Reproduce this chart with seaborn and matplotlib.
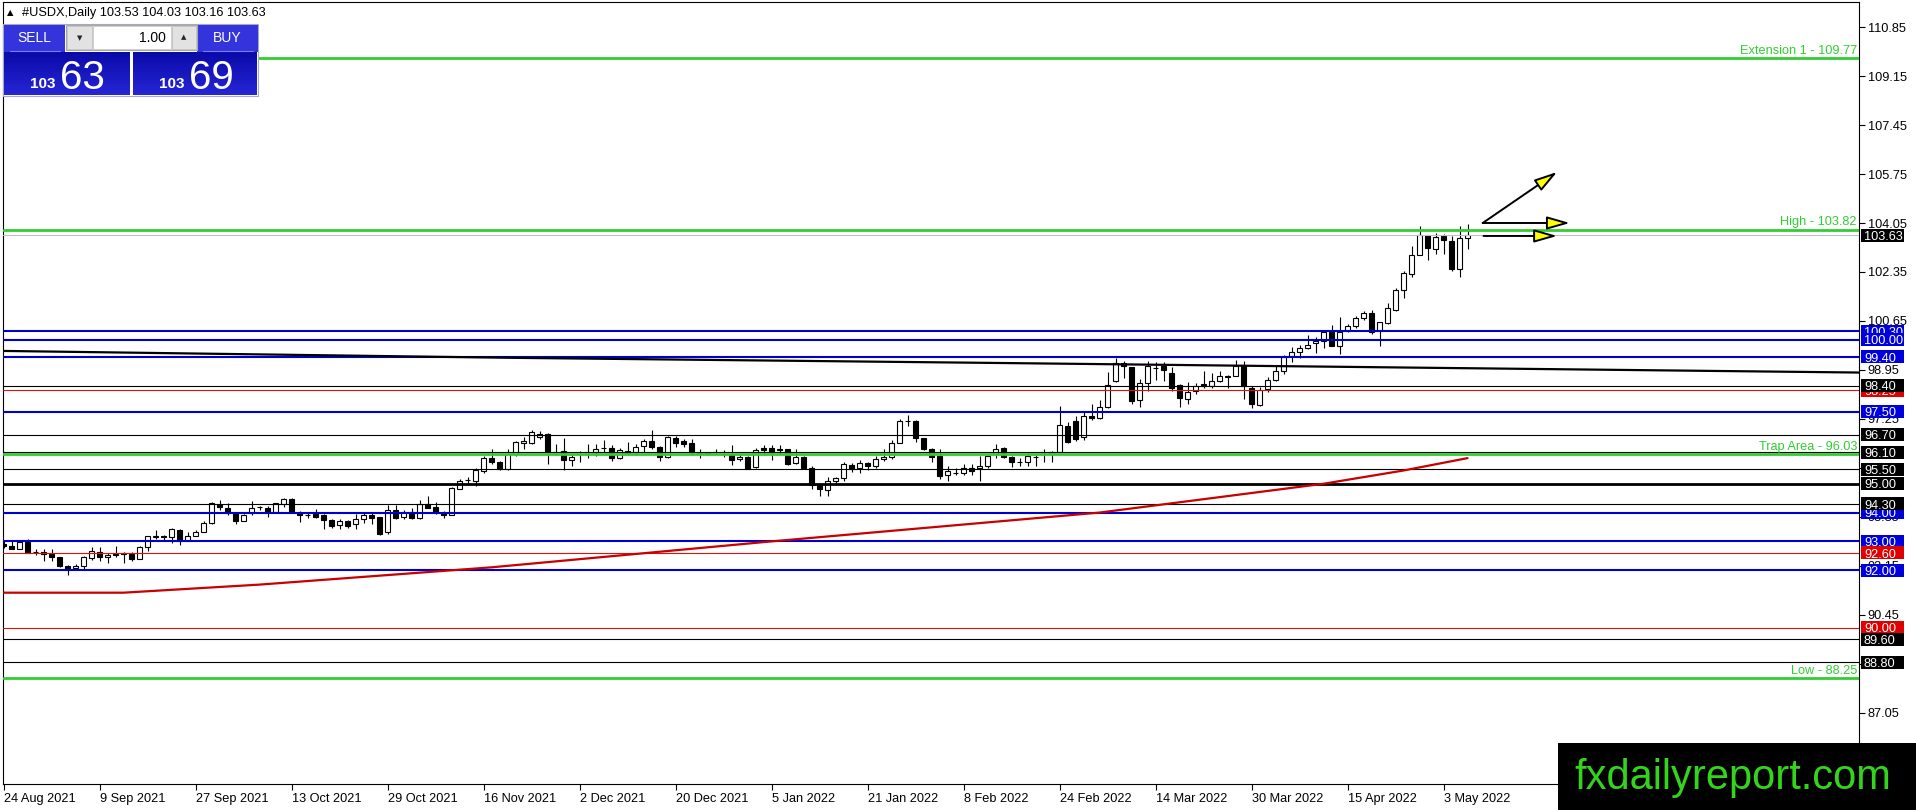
import numpy as np
import pandas as pd
import matplotlib
matplotlib.use('Agg')
import matplotlib.pyplot as plt
import matplotlib.transforms as mtransforms
from matplotlib import font_manager
from matplotlib.patches import Rectangle
from matplotlib.colors import LinearSegmentedColormap
import seaborn as sns

# daily candles, 24 Aug 2021 .. 6 May 2022
opens = [92.92, 92.85, 92.75, 92.97, 92.64, 92.63, 92.56, 92.45, 92.14, 92.06,
         92.13, 92.43, 92.63, 92.45, 92.54, 92.55, 92.57, 92.40, 92.79, 93.16,
         93.17, 93.14, 93.40, 93.02, 93.20, 93.34, 93.65, 94.26, 94.17, 93.98,
         93.72, 93.98, 94.19, 94.17, 94.03, 94.31, 94.48, 94.00, 93.93, 93.94,
         93.92, 93.75, 93.56, 93.70, 93.60, 93.77, 93.92, 93.83, 93.31, 94.09,
         93.86, 94.02, 93.80, 94.29, 94.20, 93.98, 93.91, 94.83, 95.12, 95.10,
         95.45, 95.90, 95.77, 95.50, 96.05, 96.42, 96.42, 96.61, 96.74, 96.10,
         96.14, 95.84, 96.04, 96.10, 96.09, 96.24, 96.25, 95.90, 96.14, 96.09,
         96.30, 96.49, 96.28, 95.94, 96.60, 96.47, 96.43, 96.08, 96.06, 96.10,
         96.11, 95.99, 95.85, 95.94, 95.57, 96.24, 96.25, 96.19, 96.20, 95.71,
         95.92, 95.54, 94.97, 94.80, 95.08, 95.20, 95.65, 95.56, 95.73, 95.60,
         95.86, 95.94, 96.42, 97.18, 97.19, 96.59, 96.22, 95.96, 95.30, 95.38,
         95.37, 95.56, 95.54, 95.63, 96.05, 96.25, 95.94, 95.74, 95.74, 95.92,
         96.02, 96.03, 96.11, 97.01, 97.18, 96.61, 97.34, 97.28, 97.65, 98.55,
         99.18, 99.04, 97.92, 98.48, 99.02, 99.07, 98.84, 98.44, 97.94, 98.23,
         98.45, 98.40, 98.58, 98.69, 98.75, 99.10, 98.34, 97.73, 98.28, 98.60,
         98.93, 99.45, 99.59, 99.70, 99.87, 99.94, 100.28, 99.79, 100.31, 100.48,
         100.75, 100.94, 100.31, 100.58, 101.04, 101.73, 102.29, 102.93, 103.65, 103.15,
         103.61, 103.44, 102.46, 103.53]
highs = [93.00, 93.05, 93.00, 93.10, 92.72, 92.75, 92.74, 92.47, 92.17, 92.22,
         92.48, 92.80, 92.80, 92.60, 92.83, 92.63, 92.63, 92.84, 93.20, 93.38,
         93.23, 93.46, 93.43, 93.34, 93.40, 93.72, 94.35, 94.45, 94.32, 94.00,
         93.95, 94.40, 94.23, 94.23, 94.34, 94.52, 94.50, 94.06, 94.00, 94.14,
         93.94, 93.79, 93.77, 93.75, 93.94, 93.97, 93.98, 93.85, 94.27, 94.27,
         94.10, 94.17, 94.44, 94.58, 94.35, 94.06, 94.90, 95.18, 95.24, 95.54,
         95.96, 96.21, 95.80, 96.20, 96.49, 96.62, 96.87, 96.82, 96.75, 96.39,
         96.59, 96.05, 96.13, 96.39, 96.39, 96.53, 96.34, 96.25, 96.45, 96.39,
         96.57, 96.87, 96.30, 96.66, 96.65, 96.54, 96.54, 96.22, 96.10, 96.22,
         96.16, 96.34, 96.05, 95.96, 96.25, 96.36, 96.34, 96.34, 96.22, 96.20,
         95.95, 95.60, 95.00, 95.23, 95.25, 95.77, 95.73, 95.82, 95.77, 95.97,
         96.22, 96.51, 97.24, 97.39, 97.20, 96.60, 96.24, 96.20, 95.63, 95.56,
         95.68, 95.70, 95.97, 96.02, 96.39, 96.28, 95.97, 95.91, 96.11, 96.03,
         96.20, 96.15, 97.69, 97.15, 97.34, 97.48, 97.77, 97.92, 98.87, 99.35,
         99.27, 99.06, 98.63, 99.27, 99.24, 99.24, 99.04, 98.46, 98.54, 98.48,
         98.90, 98.83, 98.92, 98.77, 99.31, 99.27, 98.40, 98.36, 98.70, 99.10,
         99.47, 99.74, 99.80, 100.16, 100.08, 100.31, 100.51, 100.78, 100.54, 100.83,
         101.00, 101.04, 100.62, 101.27, 101.80, 102.38, 103.26, 103.94, 103.65, 103.71,
         103.68, 103.59, 103.94, 104.03]
lows = [92.78, 92.72, 92.74, 92.58, 92.52, 92.31, 92.31, 92.12, 91.85, 92.02,
        92.02, 92.37, 92.31, 92.24, 92.47, 92.24, 92.33, 92.39, 92.68, 93.08,
        93.06, 92.94, 92.88, 93.00, 93.17, 93.31, 93.62, 94.10, 93.92, 93.60,
        93.70, 93.90, 94.08, 93.86, 94.00, 94.20, 94.00, 93.69, 93.80, 93.80,
        93.42, 93.48, 93.42, 93.48, 93.42, 93.65, 93.62, 93.23, 93.25, 93.77,
        93.77, 93.77, 93.77, 94.15, 93.94, 93.80, 93.90, 94.81, 94.96, 94.92,
        95.39, 95.68, 95.48, 95.47, 95.97, 96.22, 96.37, 96.56, 95.69, 95.99,
        95.48, 95.62, 95.74, 95.88, 95.97, 96.10, 95.79, 95.85, 96.00, 96.00,
        96.09, 96.22, 95.79, 95.88, 96.26, 96.28, 95.99, 95.91, 96.00, 96.02,
        95.94, 95.65, 95.79, 95.50, 95.54, 95.99, 95.82, 96.05, 95.65, 95.68,
        95.52, 94.83, 94.59, 94.57, 95.03, 95.08, 95.42, 95.37, 95.48, 95.56,
        95.80, 95.85, 96.42, 96.99, 96.45, 96.17, 95.77, 95.17, 95.08, 95.29,
        95.29, 95.31, 95.10, 95.56, 95.88, 95.88, 95.57, 95.63, 95.63, 95.60,
        95.74, 95.76, 96.09, 96.41, 96.49, 96.53, 97.22, 97.25, 97.62, 98.52,
        98.66, 97.77, 97.65, 98.23, 98.61, 98.58, 98.23, 97.65, 97.77, 98.11,
        98.31, 98.34, 98.52, 98.34, 98.73, 97.94, 97.62, 97.70, 98.20, 98.55,
        98.80, 99.21, 99.36, 99.68, 99.55, 99.70, 99.77, 99.52, 100.28, 100.39,
        100.68, 100.20, 99.77, 100.54, 101.00, 101.44, 102.17, 102.93, 102.77, 102.98,
        102.96, 102.38, 102.17, 103.16]
closes = [92.84, 92.75, 92.97, 92.60, 92.63, 92.56, 92.45, 92.14, 92.02, 92.14,
          92.47, 92.66, 92.45, 92.54, 92.55, 92.58, 92.39, 92.79, 93.17, 93.17,
          93.14, 93.42, 93.02, 93.20, 93.34, 93.65, 94.32, 94.19, 94.00, 93.71,
          93.92, 94.17, 94.20, 94.02, 94.32, 94.48, 94.02, 93.92, 93.92, 93.86,
          93.73, 93.54, 93.70, 93.54, 93.79, 93.92, 93.80, 93.27, 94.09, 93.80,
          94.03, 93.80, 94.29, 94.15, 94.03, 93.91, 94.87, 95.10, 95.13, 95.48,
          95.88, 95.75, 95.50, 96.04, 96.45, 96.47, 96.79, 96.72, 96.09, 96.11,
          95.82, 95.94, 96.05, 96.11, 96.20, 96.25, 95.88, 96.17, 96.05, 96.28,
          96.49, 96.26, 95.94, 96.62, 96.43, 96.37, 96.09, 96.07, 96.05, 96.11,
          96.10, 95.82, 95.93, 95.52, 96.17, 96.18, 96.09, 96.18, 95.69, 95.92,
          95.56, 94.95, 94.83, 95.11, 95.20, 95.69, 95.52, 95.73, 95.60, 95.85,
          95.94, 96.42, 97.19, 97.17, 96.59, 96.20, 95.94, 95.28, 95.45, 95.39,
          95.56, 95.46, 95.63, 95.97, 96.20, 95.94, 95.74, 95.75, 95.97, 95.93,
          96.03, 96.11, 97.04, 96.44, 96.57, 97.34, 97.27, 97.65, 98.44, 99.18,
          99.07, 97.88, 98.48, 99.07, 99.01, 98.96, 98.32, 97.96, 98.17, 98.40,
          98.40, 98.58, 98.73, 98.75, 99.10, 98.40, 97.77, 98.26, 98.60, 98.93,
          99.39, 99.59, 99.70, 99.82, 99.94, 100.28, 99.79, 100.28, 100.46, 100.75,
          100.94, 100.25, 100.60, 101.09, 101.71, 102.32, 102.93, 103.65, 103.19, 103.57,
          103.45, 102.44, 103.53, 103.63]
ask_price = 103.69
lot_size = 1.00

date_labels = ['24 Aug 2021', '9 Sep 2021', '27 Sep 2021', '13 Oct 2021', '29 Oct 2021',
               '16 Nov 2021', '2 Dec 2021', '20 Dec 2021', '5 Jan 2022', '21 Jan 2022',
               '8 Feb 2022', '24 Feb 2022', '14 Mar 2022', '30 Mar 2022', '15 Apr 2022',
               '3 May 2022']
label_every = 12

price_ticks = [110.85, 109.15, 107.45, 105.75, 104.05, 102.35, 100.65, 98.95, 97.25,
               95.55, 93.85, 92.15, 90.45, 88.75, 87.05, 85.35]

# moving average (red) and long trend line (black), vertices
ma_bars = [0, 15, 32, 61, 96, 137, 165, 175, 183]
ma_values = [91.22, 91.22, 91.50, 92.10, 93.00, 94.00, 95.00, 95.46, 95.89]
trend_bars = [0, 64, 125, 183, 232]
trend_values = [99.61, 99.37, 99.19, 99.01, 98.86]

# horizontal levels
blue_levels = [100.30, 100.00, 99.40, 97.50, 94.00, 93.00, 92.00]
black_levels = [98.40, 96.70, 96.10, 95.50, 95.00, 94.30, 89.60, 88.80]
red_levels = [98.25, 92.60, 90.00]
green_levels = [109.77, 103.82, 96.03, 88.25]
green_names = ['Extension 1', 'High', 'Trap Area', 'Low']

# price-scale boxes, in drawing order (later ones on top)
box_prices = [100.30, 100.00, 99.40, 98.25, 98.40, 97.50, 96.70, 96.10, 95.50, 95.00,
              94.00, 94.30, 93.00, 92.60, 92.00, 90.00, 89.60, 88.80]
box_kinds = ['blue', 'blue', 'blue', 'red', 'black', 'blue', 'black', 'black', 'black',
             'black', 'blue', 'black', 'blue', 'red', 'blue', 'red', 'black', 'black']

# hand-drawn arrows (bar index, price)
arrow_x0 = [184.9, 184.9, 185.0]
arrow_y0 = [104.05, 104.05, 103.60]
arrow_x1 = [194.2, 195.8, 194.2]
arrow_y1 = [105.82, 104.05, 103.60]

sns.set_theme(style='white')
plt.rcParams['font.family'] = ['Liberation Sans', 'DejaVu Sans']

installed = {f.name for f in font_manager.fontManager.ttflist}
if 'Liberation Sans Narrow' in installed:
    logo_font, logo_size = 'Liberation Sans Narrow', 35
else:
    logo_font, logo_size = 'Liberation Sans', 30

W, H = 1916, 810
AX_L, AX_R, AX_T, AX_B = 3, 1859, 2, 784
BAR_PX, BAR0_PX = 8, 3.5

fig = plt.figure(figsize=(W / 100, H / 100), dpi=100)
fig.patch.set_facecolor('white')
ax = fig.add_axes([AX_L / W, 1 - AX_B / H, (AX_R - AX_L) / W, (AX_B - AX_T) / H])
ax.set_facecolor('white')

o = np.array(opens)
h = np.array(highs)
l = np.array(lows)
c = np.array(closes)
x = np.arange(len(o))

ymin, ymax = 84.58, 111.72
ax.set_ylim(ymin, ymax)
ax.set_xlim((AX_L - BAR0_PX) / BAR_PX, (AX_R - BAR0_PX) / BAR_PX)
px_per_unit = (AX_B - AX_T) / (ymax - ymin)

# candles
ax.vlines(x, l, h, color='black', lw=0.8, zorder=3)
up = c >= o
body = np.maximum(np.abs(c - o), 0.006)
ax.bar(x[up], body[up], bottom=o[up], width=0.66, facecolor='white',
       edgecolor='black', linewidth=0.8, zorder=4)
ax.bar(x[~up], body[~up], bottom=c[~up], width=0.66, facecolor='black',
       edgecolor='black', linewidth=0.8, zorder=4)

# levels
for lv in blue_levels:
    ax.axhline(lv, color='#0000cd', lw=1.5, zorder=5)
for lv in black_levels:
    ax.axhline(lv, color='black', lw=2.0 if lv == 95.00 else 0.8, zorder=5)
for lv in red_levels:
    ax.axhline(lv, color='#e01010', lw=0.8, zorder=5)
ax.axhline(closes[-1], color='#c0c0c0', lw=0.8, zorder=5)
for lv in green_levels:
    ax.axhline(lv, color='#32cd32', lw=2.0, zorder=5)

lbl_trans = mtransforms.blended_transform_factory(ax.transAxes, ax.transData)
for lv, nm in zip(green_levels, green_names):
    ax.text((1857 - AX_L) / (AX_R - AX_L), lv + 1.5 / px_per_unit, f'{nm} - {lv:.2f}',
            transform=lbl_trans, ha='right', va='bottom', fontsize=9.2, color='#32cd32', zorder=6)

# moving average and trend line via seaborn
ma_df = pd.DataFrame({'bar': ma_bars, 'value': ma_values})
trend_df = pd.DataFrame({'bar': trend_bars, 'value': trend_values})
sns.lineplot(data=ma_df, x='bar', y='value', ax=ax, color='#c80000', lw=1.6, zorder=6,
             sort=False, legend=False)
sns.lineplot(data=trend_df, x='bar', y='value', ax=ax, color='black', lw=1.6, zorder=6,
             sort=False, legend=False)
ax.set_xlabel('')
ax.set_ylabel('')

# arrows
for xa, ya, xb, yb in zip(arrow_x0, arrow_y0, arrow_x1, arrow_y1):
    ax.annotate('', xy=(xb, yb), xytext=(xa, ya),
                arrowprops=dict(arrowstyle='-|>,head_length=1.4,head_width=0.4',
                                fc='#ffff00', ec='black', lw=1.4, mutation_scale=10,
                                shrinkA=0, shrinkB=0), zorder=7)

# axes styling
for side in ['left', 'right', 'bottom', 'top']:
    ax.spines[side].set_visible(True)
    ax.spines[side].set_color('black')
    ax.spines[side].set_linewidth(0.8)
ax.yaxis.tick_right()
ax.set_yticks(price_ticks)
ax.set_yticklabels([f'{t:.2f}' for t in price_ticks])
ax.tick_params(axis='y', which='both', right=True, left=False, length=4, width=0.8,
               pad=2.2, labelsize=9.2, colors='black')
tick_bars = x[::label_every][:len(date_labels)]
ax.set_xticks(tick_bars)
ax.set_xticklabels(date_labels)
ax.tick_params(axis='x', bottom=True, length=4, width=0.8, pad=2.5, labelsize=9.2,
               colors='black')
for t in ax.get_xticklabels():
    t.set_horizontalalignment('left')

# coloured boxes on the price scale
box_colors = {'blue': '#0000dd', 'black': 'black', 'red': '#e00000'}
box_h = 13 / px_per_unit
bx0 = (AX_R + 2 - AX_L) / (AX_R - AX_L)
bw = 43 / (AX_R - AX_L)
txt_trans = mtransforms.offset_copy(lbl_trans, fig=fig, y=-4.6 * 0.72, units='points')
for p, k in zip(box_prices + [closes[-1]], box_kinds + ['black']):
    ax.add_patch(Rectangle((bx0, p - box_h / 2), bw, box_h, transform=lbl_trans,
                           facecolor=box_colors[k], edgecolor='none', clip_on=False, zorder=8))
    ax.text((AX_R + 5 - AX_L) / (AX_R - AX_L), p, f'{p:.2f}', transform=txt_trans,
            ha='left', va='baseline', fontsize=9.2, color='white', clip_on=False, zorder=8)

# overlay: header, one-click panel, logo (pixel coordinates)
ov = fig.add_axes([0, 0, 1, 1], zorder=10)
ov.patch.set_visible(False)
ov.axis('off')

ov.text(7, 13, '\u25b2', fontsize=6, family='DejaVu Sans', va='center', color='black')
ov.text(22, 13, f'#USDX,Daily {opens[-1]:.2f} {highs[-1]:.2f} {lows[-1]:.2f} {closes[-1]:.2f}',
        fontsize=9.2, va='center', color='black')

ov.add_patch(Rectangle((3, 24), 255, 72, fc='white', ec='#a8a8c8', lw=0.8, zorder=1))
for bxl, name in [(4, 'SELL'), (197, 'BUY')]:
    ov.add_patch(Rectangle((bxl, 25), 61, 27, fc='#3434dc', ec='none', zorder=2))
    ov.plot([bxl + 6, bxl + 56], [51, 51], color='#7c7cf2', lw=0.8, zorder=3)
    ov.text(bxl + 30.5, 38, name, ha='center', va='center', color='white', fontsize=10, zorder=4)
ov.add_patch(Rectangle((66, 25), 131, 25, fc='#f2f2f2', ec='#a8a8a8', lw=0.8, zorder=2))
ov.add_patch(Rectangle((67, 26), 25, 23, fc='#e2e2e2', ec='#c0c0c0', lw=0.6, zorder=3))
ov.add_patch(Rectangle((172, 26), 24, 23, fc='#e2e2e2', ec='#c0c0c0', lw=0.6, zorder=3))
ov.add_patch(Rectangle((93, 26), 78, 23, fc='white', ec='#c8c8c8', lw=0.6, zorder=3))
ov.text(79.5, 38, '\u25bc', family='DejaVu Sans', fontsize=5, ha='center', va='center', zorder=4)
ov.text(184, 37, '\u25b2', family='DejaVu Sans', fontsize=5, ha='center', va='center', zorder=4)
ov.text(166, 38, f'{lot_size:.2f}', ha='right', va='center', fontsize=10, color='black', zorder=4)

grad = LinearSegmentedColormap.from_list('mtblue', ['#0a0aa8', '#2626d6'])
gvals = np.linspace(0, 1, 64).reshape(-1, 1)
for (gx0, gx1), price in [((4, 130), closes[-1]), ((133, 257), ask_price)]:
    ov.imshow(gvals, cmap=grad, extent=(gx0, gx1, 95, 52), aspect='auto',
              interpolation='bilinear', origin='upper', zorder=2)
    big = f'{price:.2f}'
    ov.text(gx0 + 52, 88, big.split('.')[0], ha='right', va='baseline', color='white',
            fontsize=11, fontweight='bold', zorder=4)
    ov.text(gx0 + 56, 89, big.split('.')[1], ha='left', va='baseline', color='white',
            fontsize=29, zorder=4)

ov.add_patch(Rectangle((1558, 743), 358, 67, fc='black', ec='none', zorder=2))
ov.text(1574, 789, 'fxdailyreport.com', fontsize=logo_size, family=logo_font,
        color='#33d41c', va='baseline', ha='left', zorder=4)

ov.set_xlim(0, W)
ov.set_ylim(H, 0)

fig.savefig('out.png', dpi=100, facecolor='white')
